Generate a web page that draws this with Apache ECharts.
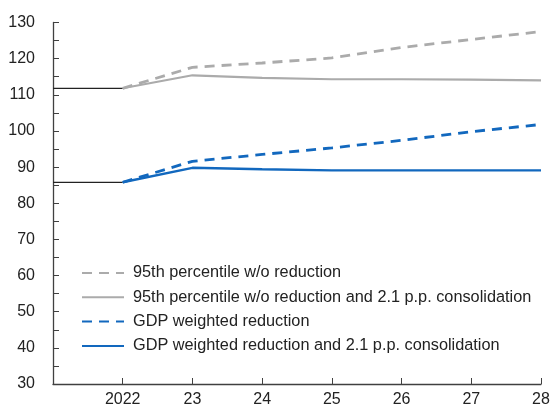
<!DOCTYPE html>
<html>
<head>
<meta charset="utf-8">
<script src="https://cdn.jsdelivr.net/npm/echarts@6/dist/echarts.min.js"></script>
<style>
html,body{margin:0;padding:0;background:#fff;}
#c{width:553px;height:411px;}
</style>
</head>
<body>
<div id="c"></div>
<script>
var categories = ['2021', '2022', '2023', '2024', '2025', '2026', '2027', '2028'];
var tickLabels = ['', '2022', '23', '24', '25', '26', '27', '28'];
var histHigh = [111.8, 111.8, null, null, null, null, null, null];
var histGdp = [85.8, 85.8, null, null, null, null, null, null];
var p95NoReduction = [null, 111.8, 117.6, 118.8, 120.2, 123.1, 125.3, 127.5];
var p95Consolidation = [null, 111.8, 115.4, 114.7, 114.3, 114.3, 114.2, 114.0];
var gdpReduction = [null, 85.8, 91.6, 93.5, 95.3, 97.4, 99.8, 101.8];
var gdpConsolidation = [null, 85.8, 89.8, 89.4, 89.1, 89.1, 89.1, 89.1];
var names = [
  '95th percentile w/o reduction',
  '95th percentile w/o reduction and 2.1 p.p. consolidation',
  'GDP weighted reduction',
  'GDP weighted reduction and 2.1 p.p. consolidation'
];

var FONT = '"Liberation Sans", Arial, sans-serif';
var GRAY = '#ABABAB';
var BLUE = '#1268BE';

function line(name, data, color, width, dashed) {
  return {
    name: name, type: 'line', data: data, symbol: 'none', silent: true,
    connectNulls: false,
    lineStyle: { color: color, width: width, type: dashed ? [10, 7] : 'solid' },
    itemStyle: { color: color },
    z: dashed ? 3 : 2
  };
}

var chart = echarts.init(document.getElementById('c'), null, { renderer: 'canvas' });
chart.setOption({
  animation: false,
  backgroundColor: '#fff',
  grid: { left: 53, right: 12, top: 22.5, bottom: 27, containLabel: false },
  legend: {
    orient: 'vertical', left: 81, top: 265,
    itemWidth: 42, itemHeight: 14, itemGap: 8.3,
    data: names,
    itemStyle: { opacity: 0 },
    textStyle: { fontFamily: FONT, fontSize: 16.3, color: '#222', padding: [0, 0, 0, 4] },
    padding: 0
  },
  xAxis: {
    type: 'category', data: categories, boundaryGap: false,
    axisLine: { lineStyle: { color: '#404040', width: 1.3 } },
    axisTick: { inside: true, length: 6, lineStyle: { color: '#404040' } },
    axisLabel: {
      margin: 8, fontFamily: FONT, fontSize: 16, color: '#222',
      formatter: function (v, i) { return tickLabels[i]; }
    },
    splitLine: { show: false }
  },
  yAxis: {
    type: 'value', min: 30, max: 130, interval: 10,
    axisLine: { show: true, lineStyle: { color: '#404040', width: 1.3 } },
    axisTick: { show: true, inside: true, length: 6, lineStyle: { color: '#404040' } },
    minorTick: { show: true, splitNumber: 2, length: 6, lineStyle: { color: '#404040' } },
    axisLabel: { margin: 18, fontFamily: FONT, fontSize: 16, color: '#222' },
    splitLine: { show: false }
  },
  series: [
    line('hist1', histHigh, '#222', 1.3, false),
    line('hist2', histGdp, '#222', 1.3, false),
    line(names[0], p95NoReduction, GRAY, 2.8, true),
    line(names[1], p95Consolidation, GRAY, 2.2, false),
    line(names[2], gdpReduction, BLUE, 2.8, true),
    line(names[3], gdpConsolidation, BLUE, 2.4, false)
  ]
});
</script>
</body>
</html>
